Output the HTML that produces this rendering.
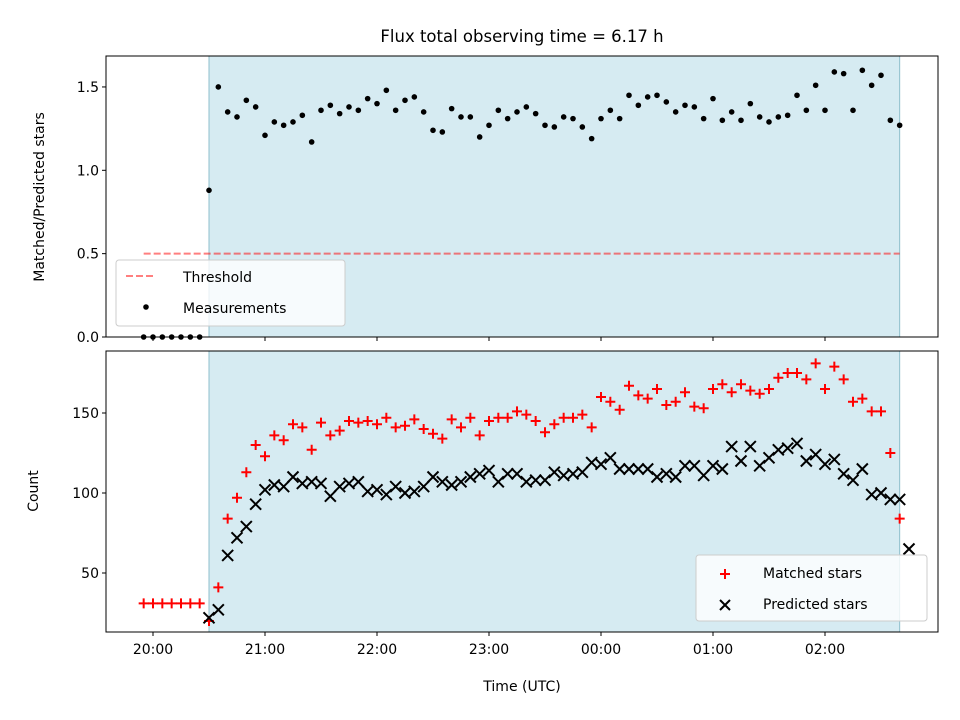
<!DOCTYPE html>
<html><head><meta charset="utf-8"><style>
body{margin:0;background:#fff}
svg{display:block;font-family:"DejaVu Sans","Liberation Sans",sans-serif}
</style></head><body>
<svg id="chart" width="960" height="720" viewBox="0 0 960 720">
<rect width="960" height="720" fill="#fff"/>
<text x="522" y="42" font-size="16.5" text-anchor="middle">Flux total observing time = 6.17 h</text>
<g id="topPanel"></g>
<g id="botPanel"></g>
</svg>
<script>
// times in minutes after 20:00; 5-minute cadence from 19:55 to 02:40
const startMinute = -5;
const stepMinutes = 5;
const shadeStart = 30, shadeEnd = 400;
const thresholdValue = 0.5;
const ratioValues = [0,0,0,0,0,0,0,
0.88,1.50,1.35,1.32,1.42,1.38,1.21,1.29,1.27,1.29,1.33,1.17,1.36,1.39,1.34,1.38,1.36,1.43,1.40,1.48,1.36,1.42,1.44,1.35,1.24,1.23,1.37,1.32,1.32,1.20,1.27,1.36,1.31,1.35,1.38,
1.34,1.27,1.26,1.32,1.31,1.26,1.19,1.31,1.36,1.31,1.45,1.39,1.44,1.45,1.41,1.35,1.39,1.38,1.31,1.43,1.30,1.35,1.30,1.40,1.32,1.29,1.32,1.33,1.45,1.36,1.51,1.36,1.59,1.58,1.36,1.60,1.51,1.57,1.30,1.27];
const matchedValues = [31,31,31,31,31,31,31,
20,41,84,97,113,130,123,136,133,143,141,127,144,136,139,145,144,145,143,147,141,142,146,140,137,134,146,141,147,136,145,147,147,151,149,
145,138,143,147,147,149,141,160,157,152,167,161,159,165,155,157,163,154,153,165,168,163,168,164,162,165,172,175,175,171,181,165,179,171,157,159,151,151,125,84];
const predictedValues = [null,null,null,null,null,null,null,
22,27,61,72,79,93,102,105,104,110,106,107,106,98,104,106,107,101,102,99,104,100,101,104,110,107,105,107,110,112,114,107,112,112,107,
108,108,113,111,112,113,119,118,122,115,115,115,115,110,112,110,117,117,111,117,115,129,120,129,117,122,127,128,131,120,124,118,121,112,108,115,99,100,96,96,65];
const xTickMinutes = [0,60,120,180,240,300,360];
const xTickLabels = ["20:00","21:00","22:00","23:00","00:00","01:00","02:00"];
const topTicks = [0.0,0.5,1.0,1.5];
const topTickLabels = ["0.0","0.5","1.0","1.5"];
const botTicks = [50,100,150];
const botTickLabels = ["50","100","150"];

const NS="http://www.w3.org/2000/svg";
const L=106,R=938;
const xs=m=>153+(m)*112/60;
const topT=56,topB=337, yTop=v=>337-v*166.7;
const botT=351,botB=632, yBot=v=>573-(v-50)*1.6;
function mk(p,tag,at){const e=document.createElementNS(NS,tag);for(const k in at)e.setAttribute(k,at[k]);p.appendChild(e);return e;}
const topG=document.getElementById('topPanel'), botG=document.getElementById('botPanel');

function panel(g,T,B,name){
  const s=mk(g,'rect',{x:xs(shadeStart),y:T,width:xs(shadeEnd)-xs(shadeStart),height:B-T,fill:'#add8e6','fill-opacity':0.5,stroke:'#8fbfcc','stroke-width':1});
  
  
}
panel(topG,topT,topB,'top');
panel(botG,botT,botB,'bottom');

const th=mk(topG,'line',{x1:xs(startMinute),x2:xs(shadeEnd),y1:yTop(thresholdValue),y2:yTop(thresholdValue),stroke:'#ff0000','stroke-opacity':0.5,'stroke-width':2,'stroke-dasharray':'7,3'});



ratioValues.forEach((v,i)=>{
  const c=mk(topG,'circle',{cx:xs(startMinute+i*stepMinutes),cy:yTop(v),r:2.8,fill:'#000'});
  
  
});
matchedValues.forEach((v,i)=>{
  const x=xs(startMinute+i*stepMinutes),y=yBot(v);
  const p=mk(botG,'path',{d:`M${x-5},${y}H${x+5}M${x},${y-5}V${y+5}`,stroke:'#f00','stroke-width':2,fill:'none'});
  
  
});
predictedValues.forEach((v,i)=>{
  if(v===null)return;
  const x=xs(startMinute+i*stepMinutes),y=yBot(v);
  const p=mk(botG,'path',{d:`M${x-5.5},${y-5.5}L${x+5.5},${y+5.5}M${x-5.5},${y+5.5}L${x+5.5},${y-5.5}`,stroke:'#000','stroke-width':2,fill:'none'});
  
  
});

function frame(g,T,B,name){
  const f=mk(g,'rect',{x:L,y:T,width:R-L,height:B-T,fill:'none',stroke:'#000','stroke-width':1});
  
  
}
frame(topG,topT,topB,'top');frame(botG,botT,botB,'bottom');

xTickMinutes.forEach((m,i)=>{
  const x=xs(m);
  const t1=mk(topG,'line',{x1:x,x2:x,y1:topB,y2:topB+4,stroke:'#000'});
  
  
  const t2=mk(botG,'line',{x1:x,x2:x,y1:botB,y2:botB+4,stroke:'#000'});
  
  
  const tx=mk(botG,'text',{x:x,y:botB+22,'font-size':14,'text-anchor':'middle'});
  tx.textContent=xTickLabels[i];
  
  
});
topTicks.forEach((v,i)=>{
  const y=yTop(v);
  const t=mk(topG,'line',{x1:L-4,x2:L,y1:y,y2:y,stroke:'#000'});
  
  
  const tx=mk(topG,'text',{x:L-7,y:y+5,'font-size':14,'text-anchor':'end'});
  tx.textContent=topTickLabels[i];
  
  
});
botTicks.forEach((v,i)=>{
  const y=yBot(v);
  const t=mk(botG,'line',{x1:L-4,x2:L,y1:y,y2:y,stroke:'#000'});
  
  
  const tx=mk(botG,'text',{x:L-7,y:y+5,'font-size':14,'text-anchor':'end'});
  tx.textContent=botTickLabels[i];
  
  
});
</script>
<svg style="position:absolute;left:0;top:0" width="960" height="720">
<text x="44" y="197" font-size="14" text-anchor="middle" transform="rotate(-90 44 197)" font-family="DejaVu Sans, sans-serif">Matched/Predicted stars</text>
<text x="38" y="491" font-size="14" text-anchor="middle" transform="rotate(-90 38 491)" font-family="DejaVu Sans, sans-serif">Count</text>
<text x="522" y="691" font-size="14" text-anchor="middle" font-family="DejaVu Sans, sans-serif">Time (UTC)</text>
<g font-family="DejaVu Sans, sans-serif">
<rect x="116" y="260" width="229" height="66" rx="3" fill="#fff" fill-opacity="0.8" stroke="#ccc"/>
<line x1="126" y1="276" x2="154" y2="276" stroke="#ff0000" stroke-opacity="0.5" stroke-width="2" stroke-dasharray="7,3"/>
<text x="183" y="282" font-size="14">Threshold</text>
<circle cx="146" cy="307" r="2.8" fill="#000"/>
<text x="183" y="313" font-size="14">Measurements</text>
</g>
<g font-family="DejaVu Sans, sans-serif">
<rect x="696" y="555" width="231" height="66" rx="3" fill="#fff" fill-opacity="0.8" stroke="#ccc"/>
<path d="M720,574H730M725,569V579" stroke="#f00" stroke-width="2"/>
<text x="763" y="578" font-size="14">Matched stars</text>
<path d="M720,600L730,610M720,610L730,600" stroke="#000" stroke-width="2"/>
<text x="763" y="609" font-size="14">Predicted stars</text>
</g>
</svg>
</body></html>
